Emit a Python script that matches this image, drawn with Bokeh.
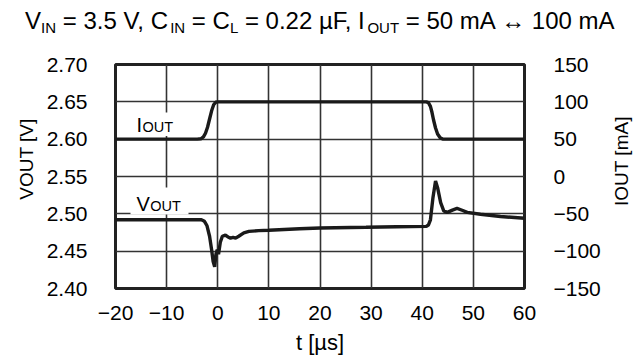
import numpy as np
from bokeh.plotting import figure
from bokeh.layouts import column, row
from bokeh.models import Range1d, LinearAxis, FixedTicker, Label, BoxAnnotation
from bokeh.core.properties import value
from bokeh.embed import file_html
from bokeh.resources import INLINE

# ---------------- data ----------------
t_iout = [-20, -4, -3.3, -2.8, -2.4, -2.0, -1.6, -1.2, -0.8, -0.4, 0,
          40.8, 41.2, 41.6, 41.9, 42.2, 42.6, 43.0, 43.5, 44.0, 44.6, 60]
iout_ma = [50, 50, 50.5, 53, 58, 66, 77, 88, 96, 99.5, 100,
           100, 99, 94, 86, 76, 65, 57, 52, 50.3, 50, 50]

t_vout = [-20, -3.2, -2.6, -2.1, -1.6, -1.2, -0.9, -0.6, -0.35, -0.1, 0.15,
          0.5, 0.9, 1.5, 2.0, 2.5, 3.0, 3.5, 4.1, 5.1, 6.1, 8, 10, 16, 20,
          29, 35, 40.8, 41.2, 41.6, 42.1, 42.6, 43.0, 43.6, 44.2, 44.9,
          45.9, 46.8, 47.8, 48.8, 51.4, 55.3, 60]
vout_v = [2.492, 2.492, 2.490, 2.484, 2.470, 2.452, 2.436, 2.429, 2.446, 2.452, 2.446,
          2.462, 2.470, 2.4715, 2.469, 2.4675, 2.4685, 2.4675, 2.470, 2.4745, 2.4765, 2.4775, 2.478, 2.480, 2.481,
          2.482, 2.4828, 2.4832, 2.485, 2.492, 2.522, 2.544, 2.535, 2.515, 2.504, 2.502,
          2.505, 2.5072, 2.5048, 2.502, 2.4995, 2.4965, 2.494]

x_ticks = [-20, -10, 0, 10, 20, 30, 40, 50, 60]
x_tick_labels = ["\u221220", "\u221210", "0", "10", "20", "30", "40", "50", "60"]
vout_ticks = [2.40, 2.45, 2.50, 2.55, 2.60, 2.65, 2.70]
vout_tick_labels = ["2.40", "2.45", "2.50", "2.55", "2.60", "2.65", "2.70"]
iout_ticks = [-150, -100, -50, 0, 50, 100, 150]
iout_tick_labels = ["\u2212150", "\u2212100", "\u221250", "0", "50", "100", "150"]

title_parts = [("V", 0), ("IN", 1), (" = 3.5 V, C", 0), ("IN", 1), (" = C", 0), ("L", 1),
               (" = 0.22 \u00b5F, I", 0), ("OUT", 1), (" = 50 mA \u2194 100 mA", 0)]
ylabel = "VOUT [V]"
y2label = "IOUT [mA]"
xlabel = "t [\u00b5s]"

# ---------------- layout ----------------
FONT = "Liberation Sans"
INK = "#1a1a1a"
W, H = 635, 360
TOP_H = 40            # title strip
LEFT_W, RIGHT_W = 42, 32
MAIN_W, MAIN_H = W - LEFT_W - RIGHT_W, H - TOP_H
FL, FT, FR, FB = 115, 64, 524, 288   # frame edges in page px
XMIN, XMAX, YMIN, YMAX = -20, 60, 2.40, 2.70
BASE_FIX = 0.35   # offset between baseline and middle of the text box (em)

p = figure(width=MAIN_W, height=MAIN_H, x_range=Range1d(XMIN, XMAX), y_range=Range1d(YMIN, YMAX),
           output_backend="svg", toolbar_location=None,
           min_border_left=FL - LEFT_W, min_border_right=(LEFT_W + MAIN_W) - FR,
           min_border_top=FT - TOP_H, min_border_bottom=H - FB)
p.title.visible = False
p.extra_y_ranges = {"iout": Range1d(iout_ticks[0], iout_ticks[-1])}
p.background_fill_color = "white"
p.border_fill_color = "white"
p.outline_line_color = "#222222"
p.outline_line_width = 3
p.outline_line_alpha = 1


def dx(px):
    return XMIN + (px - FL) / (FR - FL) * (XMAX - XMIN)


def dy(py):
    return YMAX - (py - FT) / (FB - FT) * (YMAX - YMIN)


def style_axis(ax, standoff):
    ax.major_tick_line_color = None
    ax.minor_tick_line_color = None
    ax.major_tick_out = 0
    ax.major_tick_in = 0
    ax.minor_tick_out = 0
    ax.axis_line_color = None
    ax.major_label_text_font = FONT
    ax.major_label_text_font_size = "21px"
    ax.major_label_text_color = "black"
    ax.major_label_standoff = standoff


p.xaxis.ticker = FixedTicker(ticks=x_ticks)
p.xaxis.major_label_overrides = dict(zip(x_ticks, x_tick_labels))
style_axis(p.xaxis[0], 17)
p.xaxis.axis_label = xlabel
p.xaxis.axis_label_text_font = FONT
p.xaxis.axis_label_text_font_size = "22px"
p.xaxis.axis_label_text_font_style = "normal"
p.xaxis.axis_label_text_color = "black"
p.xaxis.axis_label_standoff = 7

p.yaxis.ticker = FixedTicker(ticks=vout_ticks)
p.yaxis.major_label_overrides = dict(zip(vout_ticks, vout_tick_labels))
style_axis(p.yaxis[0], 28)

rax = LinearAxis(y_range_name="iout", ticker=FixedTicker(ticks=iout_ticks))
rax.major_label_overrides = dict(zip(iout_ticks, iout_tick_labels))
style_axis(rax, 29)
p.add_layout(rax, "right")

p.xgrid.ticker = FixedTicker(ticks=x_ticks)
p.ygrid.ticker = FixedTicker(ticks=vout_ticks)
p.grid.grid_line_color = "#333333"
p.grid.grid_line_width = 1.6
p.grid.grid_line_alpha = 1

# white patches behind the in-plot trace labels
for l, r, t, b in [(130, 181, 112, 135.5), (130, 188, 187, 214)]:
    p.add_layout(BoxAnnotation(left=dx(l), right=dx(r), top=dy(t), bottom=dy(b),
                               fill_color="white", fill_alpha=1, line_color=None,
                               level="underlay"))

# traces
p.line(t_iout, iout_ma, y_range_name="iout", line_color=INK, line_width=3.4)
p.line(t_vout, vout_v, line_color=INK, line_width=3.4)

# ---------------- texts ----------------
AW = {' ': 278, '=': 584, '.': 278, ',': 278, 'V': 667, 'C': 722, 'I': 278, 'N': 722,
      'L': 556, 'O': 778, 'U': 722, 'T': 611, 'F': 611, 'm': 833, 'A': 667,
      '\u00b5': 576, '\u2194': 1000, 't': 278, '[': 278, ']': 278, 's': 500}


def tw(s, size):
    return sum(AW.get(c, 556) for c in s) * size / 1000.0


# in-plot trace labels (small-caps style)
for main, py in [("I", 131.5), ("V", 210.5)]:
    for txt, px, size in [(main, 136, 20), ("OUT", 136 + tw(main, 20) + 0.5, 14.5)]:
        p.add_layout(Label(x=dx(px), y=dy(py - BASE_FIX * size), text=txt, text_font=FONT,
                           text_font_size=f"{size}px", text_color="black",
                           text_align="left", text_baseline="alphabetic"))


def text_fig(w, h):
    f = figure(width=w, height=h, x_range=Range1d(0, w), y_range=Range1d(0, h),
               output_backend="svg", toolbar_location=None, min_border=0,
               x_axis_type=None, y_axis_type=None)
    f.title.visible = False
    f.outline_line_color = None
    f.background_fill_color = "white"
    f.border_fill_color = "white"
    f.xgrid.visible = False
    f.ygrid.visible = False
    return f


def put(f, h, txt, x, y_from_top, size, angle=0.0, align="left", baseline="alphabetic"):
    f.text(x=[x], y=[h - y_from_top], text=[txt], text_font=value(FONT),
           text_font_size=value(f"{size}px"), text_color="black",
           text_align=align, text_baseline=baseline, angle=angle)


def split_lead(s):
    body = s.lstrip(" ")
    return body, len(s) - len(body)


# title with subscripts
M, S = 24, 15
tf = text_fig(W, TOP_H)
total = sum(tw(s, S if sub else M) for s, sub in title_parts)
cx = 320 - total / 2
for s, sub in title_parts:
    size = S if sub else M
    body, nlead = split_lead(s)
    base = 28.5 + (4.0 if sub else 0)
    put(tf, TOP_H, body, cx + tw(" " * nlead, size), base - BASE_FIX * size, size)
    cx += tw(s, size)


# rotated axis titles (reading bottom to top), single centred text each
def rotated(txt, w, base_x, center_y, size=19):
    f = text_fig(w, MAIN_H)
    put(f, MAIN_H, txt, base_x - BASE_FIX * size, center_y - TOP_H, size,
        angle=np.pi / 2, align="center", baseline="middle")
    return f


lf = rotated(ylabel, LEFT_W, 33, 175)
rf = rotated(y2label, RIGHT_W, 628 - (LEFT_W + MAIN_W), 178)

layout = column(tf, row(lf, p, rf, spacing=0), spacing=0)
open("out.html", "w").write(file_html(layout, INLINE))
